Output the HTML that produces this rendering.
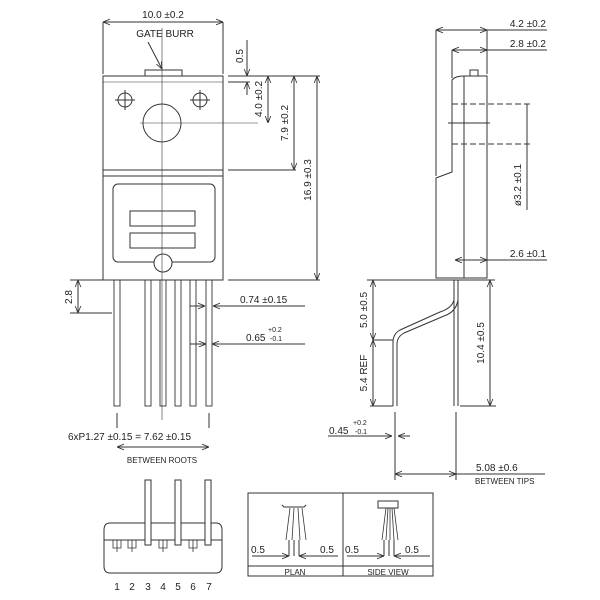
<!DOCTYPE html>
<html><head><style>body{margin:0;background:#fff}svg{display:block}text{font-family:"Liberation Sans",sans-serif;fill:#222}</style></head><body>
<svg width="600" height="600" viewBox="0 0 600 600" xmlns="http://www.w3.org/2000/svg">
<defs><marker id="a" viewBox="0 0 10 10" refX="10" refY="5" markerWidth="7" markerHeight="7" orient="auto-start-reverse"><path d="M0,1 L10,5 L0,9" fill="none" stroke="#333" stroke-width="1.2"/></marker></defs>
<g stroke="#333" stroke-width="1" fill="none">
<rect x="103" y="76" width="120" height="204"/>
<line x1="103" y1="170" x2="223" y2="170"/><line x1="103" y1="176" x2="223" y2="176"/>
<rect x="145" y="70" width="37" height="6"/>
<line x1="103" y1="82" x2="223" y2="82" stroke-width="0.6"/>
<circle cx="125" cy="100" r="7"/><circle cx="200" cy="100" r="7"/>
<line x1="115" y1="100" x2="135" y2="100"/><line x1="125" y1="90" x2="125" y2="110"/>
<line x1="190" y1="100" x2="210" y2="100"/><line x1="200" y1="90" x2="200" y2="110"/>
<circle cx="162" cy="123" r="19"/>
<rect x="113" y="184" width="102" height="78" rx="5"/>
<rect x="130" y="211" width="65" height="15"/><rect x="130" y="233" width="65" height="15"/>
<circle cx="163" cy="263" r="9" fill="#fff"/>
<line x1="162" y1="28" x2="162" y2="420" stroke-width="0.6"/>
<line x1="140" y1="123" x2="258" y2="123" stroke-width="0.6"/>
<g stroke-width="0.9">
<rect x="114" y="280" width="6" height="126"/><rect x="145" y="280" width="6" height="126"/><rect x="160" y="280" width="6" height="126"/><rect x="175" y="280" width="6" height="126"/><rect x="190" y="280" width="6" height="126"/><rect x="206" y="280" width="6" height="126"/>
</g>
<line x1="117" y1="413" x2="117" y2="428"/><line x1="209" y1="413" x2="209" y2="428"/>
<line x1="117" y1="447" x2="209" y2="447" marker-start="url(#a)" marker-end="url(#a)"/>
<line x1="103" y1="22" x2="103" y2="74"/><line x1="223" y1="22" x2="223" y2="74"/>
<line x1="103" y1="22" x2="223" y2="22" marker-start="url(#a)" marker-end="url(#a)"/>
<line x1="148" y1="42" x2="162" y2="69" marker-end="url(#a)"/>
<line x1="228" y1="76" x2="320" y2="76"/><line x1="228" y1="82" x2="250" y2="82"/>
<line x1="228" y1="170" x2="296" y2="170"/><line x1="228" y1="280" x2="320" y2="280"/>
<line x1="247" y1="40" x2="247" y2="76" marker-end="url(#a)"/><line x1="247" y1="95" x2="247" y2="82" marker-end="url(#a)"/>
<line x1="268" y1="76" x2="268" y2="123" marker-start="url(#a)" marker-end="url(#a)"/>
<line x1="294" y1="76" x2="294" y2="170" marker-start="url(#a)" marker-end="url(#a)"/>
<line x1="317" y1="76" x2="317" y2="280" marker-start="url(#a)" marker-end="url(#a)"/>
<line x1="70" y1="280" x2="112" y2="280"/><line x1="70" y1="313" x2="112" y2="313"/>
<line x1="78" y1="280" x2="78" y2="313" marker-start="url(#a)" marker-end="url(#a)"/>
<line x1="190" y1="306" x2="205" y2="306" marker-end="url(#a)"/><line x1="305" y1="306" x2="213" y2="306" marker-end="url(#a)"/>
<line x1="190" y1="344" x2="206" y2="344" marker-end="url(#a)"/><line x1="305" y1="344" x2="212" y2="344" marker-end="url(#a)"/>
<path d="M436,278 L436,178 L452,172 L452,80 Q455,76 464,76 L487,76 L487,278 Z"/>
<line x1="464" y1="76" x2="464" y2="278"/>
<rect x="470" y="70" width="8" height="6"/>
<line x1="436" y1="30" x2="436" y2="176"/><line x1="487" y1="30" x2="487" y2="74"/><line x1="452" y1="50" x2="452" y2="78"/>
<line x1="436" y1="30" x2="487" y2="30" marker-start="url(#a)" marker-end="url(#a)"/><line x1="487" y1="30" x2="547" y2="30"/>
<line x1="452" y1="50" x2="487" y2="50" marker-start="url(#a)" marker-end="url(#a)"/><line x1="487" y1="50" x2="547" y2="50"/>
<line x1="452" y1="104" x2="530" y2="104" stroke-dasharray="6,3"/><line x1="452" y1="144" x2="530" y2="144" stroke-dasharray="6,3"/>
<line x1="448" y1="123" x2="490" y2="123"/>
<line x1="527" y1="104" x2="527" y2="210"/>
<line x1="455" y1="260" x2="487" y2="260" marker-start="url(#a)" marker-end="url(#a)"/><line x1="487" y1="260" x2="547" y2="260"/>
<line x1="367" y1="280" x2="495" y2="280"/>
<line x1="454" y1="280" x2="454" y2="406"/><line x1="458" y1="280" x2="458" y2="406"/>
<path d="M454,300 Q452,308 440,312 L400,330 Q393,334 393,342 L393,406"/>
<path d="M458,300 Q456,312 444,316 L404,333 Q397,337 397,344 L397,406"/>
<line x1="373" y1="340" x2="393" y2="340"/><line x1="370" y1="406" x2="393" y2="406"/><line x1="460" y1="406" x2="496" y2="406"/>
<line x1="373" y1="280" x2="373" y2="340" marker-start="url(#a)" marker-end="url(#a)"/>
<line x1="373" y1="340" x2="373" y2="406" marker-start="url(#a)" marker-end="url(#a)"/>
<line x1="490" y1="280" x2="490" y2="406" marker-start="url(#a)" marker-end="url(#a)"/>
<line x1="395" y1="412" x2="395" y2="480"/><line x1="456" y1="412" x2="456" y2="480"/>
<line x1="328" y1="436" x2="392" y2="436" marker-end="url(#a)"/><line x1="410" y1="436" x2="398" y2="436" marker-end="url(#a)"/>
<line x1="395" y1="474" x2="456" y2="474" marker-start="url(#a)" marker-end="url(#a)"/><line x1="456" y1="474" x2="545" y2="474"/>
<path d="M110,523 L216,523 Q222,523 222,530 L222,566 Q222,573 216,573 L110,573 Q104,573 104,566 L104,530 Q104,523 110,523 Z"/>
<line x1="104" y1="540" x2="222" y2="540"/>
<rect x="145" y="480" width="6" height="65" fill="#fff"/><rect x="175" y="480" width="6" height="65" fill="#fff"/><rect x="205" y="480" width="6" height="65" fill="#fff"/>
<g stroke-width="0.8"><path d="M113,540 v8 h8 v-8 M117,540 v12"/><path d="M128,540 v8 h8 v-8 M132,540 v12"/><path d="M159,540 v8 h8 v-8 M163,540 v12"/><path d="M189,540 v8 h8 v-8 M193,540 v12"/></g>
<rect x="248" y="493" width="185" height="83"/>
<line x1="343" y1="493" x2="343" y2="576"/><line x1="248" y1="566" x2="433" y2="566"/>
<path d="M282,505 L284,507 L304,507 L306,505"/>
<rect x="378" y="501" width="20" height="7"/>
<g stroke-width="0.8"><path d="M290,508 L286,540 M294,508 L292,540 M298,508 L300,540 M302,508 L306,540"/><path d="M386,508 L382,540 M388,508 L386,540 M390,508 L390,540 M392,508 L394,540 M394,508 L398,540"/></g>
<line x1="289" y1="540" x2="289" y2="556"/><line x1="294" y1="540" x2="294" y2="556"/><line x1="299" y1="540" x2="299" y2="556"/>
<line x1="384" y1="540" x2="384" y2="556"/><line x1="389" y1="540" x2="389" y2="556"/><line x1="394" y1="540" x2="394" y2="556"/>
<line x1="252" y1="556" x2="289" y2="556" marker-end="url(#a)"/><line x1="338" y1="556" x2="299" y2="556" marker-end="url(#a)"/>
<line x1="347" y1="556" x2="384" y2="556" marker-end="url(#a)"/><line x1="430" y1="556" x2="394" y2="556" marker-end="url(#a)"/>
</g>
<g font-size="10">
<text x="163" y="18" text-anchor="middle">10.0 ±0.2</text>
<text x="165" y="37" text-anchor="middle">GATE BURR</text>
<text transform="translate(243,56) rotate(-90)" text-anchor="middle">0.5</text>
<text transform="translate(262,99) rotate(-90)" text-anchor="middle">4.0 ±0.2</text>
<text transform="translate(288,123) rotate(-90)" text-anchor="middle">7.9 ±0.2</text>
<text transform="translate(311,180) rotate(-90)" text-anchor="middle">16.9 ±0.3</text>
<text transform="translate(72,297) rotate(-90)" text-anchor="middle">2.8</text>
<text x="240" y="303">0.74 ±0.15</text>
<text x="246" y="341">0.65</text><text x="268" y="332" font-size="7">+0.2</text><text x="270" y="341" font-size="7">-0.1</text>
<text x="68" y="440">6xP1.27 ±0.15 = 7.62 ±0.15</text>
<text x="162" y="463" text-anchor="middle" font-size="8">BETWEEN ROOTS</text>
<text x="546" y="27" text-anchor="end">4.2 ±0.2</text>
<text x="546" y="47" text-anchor="end">2.8 ±0.2</text>
<text transform="translate(521,185) rotate(-90)" text-anchor="middle">ø3.2 ±0.1</text>
<text x="546" y="257" text-anchor="end">2.6 ±0.1</text>
<text transform="translate(367,310) rotate(-90)" text-anchor="middle">5.0 ±0.5</text>
<text transform="translate(367,373) rotate(-90)" text-anchor="middle">5.4 REF</text>
<text transform="translate(484,343) rotate(-90)" text-anchor="middle">10.4 ±0.5</text>
<text x="329" y="434">0.45</text><text x="353" y="425" font-size="7">+0.2</text><text x="355" y="434" font-size="7">-0.1</text>
<text x="476" y="471">5.08 ±0.6</text>
<text x="475" y="484" font-size="8">BETWEEN TIPS</text>
<text x="251" y="553">0.5</text><text x="320" y="553">0.5</text><text x="345" y="553">0.5</text><text x="405" y="553">0.5</text>
<text x="295" y="575" text-anchor="middle" font-size="8">PLAN</text>
<text x="388" y="575" text-anchor="middle" font-size="8">SIDE VIEW</text>
<text x="117" y="590" text-anchor="middle">1</text><text x="132" y="590" text-anchor="middle">2</text><text x="148" y="590" text-anchor="middle">3</text><text x="163" y="590" text-anchor="middle">4</text><text x="178" y="590" text-anchor="middle">5</text><text x="193" y="590" text-anchor="middle">6</text><text x="209" y="590" text-anchor="middle">7</text>
</g>
</svg>
</body></html>
